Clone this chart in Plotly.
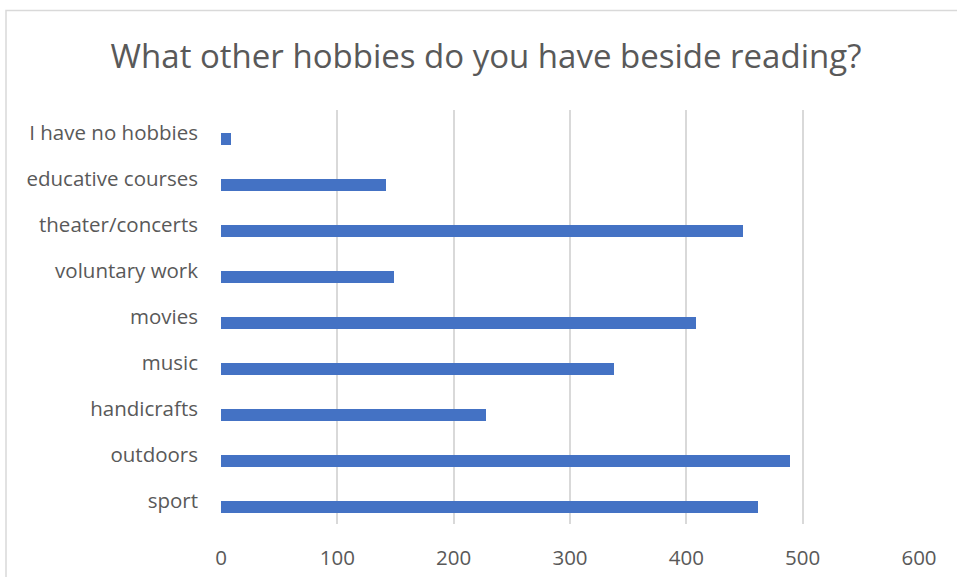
import plotly.graph_objects as go

categories = ["sport", "outdoors", "handicrafts", "music", "movies",
              "voluntary work", "theater/concerts", "educative courses",
              "I have no hobbies"]
values = [462, 489, 228, 338, 408, 149, 449, 142, 9]
x_ticks = [0, 100, 200, 300, 400, 500, 600]

W, H = 957, 577
L, R, T, B = 221, 38, 110, 52.5
pw, ph = W - L - R, H - T - B

def px_to_paper_x(px):
    return (px - L) / pw

def px_to_paper_y(py):
    return (H - B - py) / ph

fig = go.Figure()
fig.add_trace(go.Bar(
    x=values, y=categories, orientation="h",
    marker=dict(color="#4472C4", line=dict(width=0)),
    width=0.254, offset=-0.254,
    hoverinfo="x+y",
))

fig.update_layout(
    width=W, height=H,
    margin=dict(l=L, r=R, t=T, b=B),
    paper_bgcolor="white", plot_bgcolor="white",
    font=dict(family="Open Sans", color="#595959"),
    title=dict(text="What other hobbies do you have beside reading?",
               x=486 / W, xanchor="center", xref="container",
               y=1 - 56 / H, yanchor="middle", yref="container",
               font=dict(size=33, color="#595959", family="Open Sans")),
    showlegend=False,
    bargap=0,
)
fig.update_xaxes(range=[0, 600], tickvals=x_ticks, showgrid=True,
                 gridcolor="#d9d9d9", gridwidth=2, zeroline=False,
                 showline=False, ticks="", ticklen=0, automargin=False,
                 ticklabelstandoff=19,
                 tickfont=dict(size=20.5, color="#595959"))
fig.update_yaxes(type="category", categoryorder="array", categoryarray=categories,
                 showgrid=False, zeroline=False, showline=False, ticks="",
                 automargin=False, ticklabelstandoff=22,
                 tickfont=dict(size=20.5, color="#595959"))

fig.add_shape(type="rect", xref="paper", yref="paper",
              x0=px_to_paper_x(6), x1=px_to_paper_x(1200),
              y0=px_to_paper_y(900), y1=px_to_paper_y(10.5),
              line=dict(color="#d9d9d9", width=1.5), fillcolor="rgba(0,0,0,0)",
              layer="below")

fig.write_html("out.html")
